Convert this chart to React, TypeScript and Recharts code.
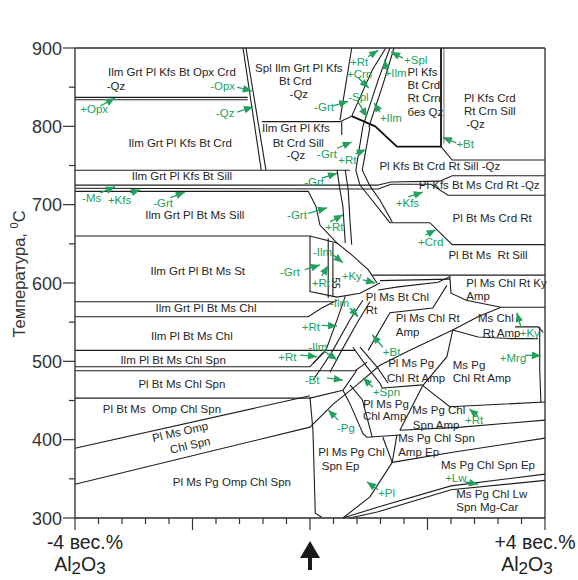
import React from 'react';
import { ComposedChart, Line, Scatter, XAxis, YAxis } from 'recharts';

type Pt = [number, number];

const FONT = '"Liberation Sans", Arial, Helvetica, sans-serif';
const INK = '#262626';
const GREEN = '#22a05e';

// axis ticks
const xTicks = [-4, -3.6, -3.2, -2.8, -2.4, -2, -1.6, -1.2, -0.8, -0.4, 0, 0.4, 0.8, 1.2, 1.6, 2, 2.4, 2.8, 3.2, 3.6, 4];
const yTicks = [300, 350, 400, 450, 500, 550, 600, 650, 700, 750, 800, 850, 900];

// phase-field boundaries: [Al2O3 wt% shift, T °C]
const boundaryLines: Pt[][] = [
  [[-4, 837], [-1.06, 837]],
  [[-4, 834], [-1.06, 834]],
  [[-1.14, 900], [-0.83, 744]],
  [[-1.09, 900], [-0.75, 744]],
  [[0.71, 900], [0.51, 808]],
  [[0.54, 806], [0.54, 789]],
  [[-0.82, 806], [0.51, 806], [0.71, 813]],
  [[2.23, 774], [2.42, 757], [4, 757]],
  [[1.16, 725], [1.38, 729], [2.21, 730], [2.42, 737], [4, 737]],
  [[1.16, 720], [1.38, 726], [2.06, 726], [2.35, 712], [4, 712]],
  [[-4, 725], [1.16, 725]],
  [[-4, 721], [1.16, 720]],
  [[-4, 717], [-0.03, 717], [0.1, 698]],
  [[-4, 744], [0.68, 744]],
  [[0.71, 813], [1.06, 872], [1.29, 900]],
  [[0.9, 800], [1.16, 859], [1.36, 900]],
  [[1.0, 799], [1.24, 853], [1.43, 900]],
  [[0.9, 800], [0.78, 744], [0.85, 725], [0.99, 712], [1.36, 677], [2.04, 677], [2.42, 649], [4, 649]],
  [[1.02, 799], [0.89, 744], [1.02, 724], [1.19, 706], [1.4, 678]],
  [[0.46, 744], [0.51, 719], [0.56, 698], [0.6, 651]],
  [[0.6, 744], [0.65, 719], [0.68, 680], [0.71, 649]],
  [[0.1, 698], [0.17, 674], [0.46, 651]],
  [[-4, 660], [0, 660], [0.46, 651], [0.71, 636], [0.99, 617], [1.14, 600]],
  [[0, 660], [0, 589], [0.46, 582], [0.85, 587], [1.19, 600]],
  [[0.31, 657], [0.31, 581]],
  [[0.39, 651], [0.39, 582]],
  [[1.06, 610], [4, 610]],
  [[1.19, 603], [2.38, 605]],
  [[2.38, 609], [2.4, 587], [2.66, 578], [3.25, 569], [4, 569]],
  [[2.43, 540], [2.86, 557], [3.25, 569]],
  [[2.43, 540], [2.86, 531], [3.42, 529], [3.88, 529]],
  [[3.49, 544], [3.88, 544], [3.97, 537]],
  [[3.91, 544], [3.91, 490], [3.93, 448]],
  [[0.6, 583], [0.46, 553], [0.27, 514], [0.05, 497]],
  [[0.9, 578], [0.68, 553], [0.39, 514], [0.17, 489], [0.05, 476]],
  [[1.02, 576], [0.8, 549], [0.54, 514], [0.34, 486]],
  [[0.99, 514], [1.36, 562], [2.09, 568], [2.33, 597]],
  [[1.16, 591], [1.5, 595], [2.18, 601], [2.38, 608]],
  [[2.43, 540], [2.33, 506], [1.92, 469]],
  [[-4, 343], [0, 416], [0.39, 445], [0.8, 470], [1.19, 495], [1.7, 514], [2.43, 540]],
  [[-4, 389], [0, 456]],
  [[1.92, 469], [2.38, 442], [4, 448]],
  [[1.92, 469], [1.53, 412]],
  [[1.53, 412], [2.57, 416], [4, 425]],
  [[1.4, 371], [2.43, 384], [4, 402]],
  [[0.97, 403], [1.53, 406]],
  [[1.24, 403], [1.4, 371]],
  [[1.48, 406], [1.4, 371]],
  [[1.4, 371], [1.02, 327], [0.56, 300]],
  [[0, 454], [0.05, 412], [0.09, 306], [0.2, 301]],
  [[0.56, 463], [0.68, 446], [0.9, 408], [0.97, 403]],
  [[0.68, 470], [0.89, 451], [1.06, 403]],
  [[0.73, 518], [0.97, 493], [1.19, 472], [1.23, 466]],
  [[0.85, 518], [1.14, 493], [1.33, 472]],
  [[-4, 453], [0, 453], [0.56, 463]],
  [[0.56, 463], [0.8, 489]],
  [[-4, 493], [0, 493], [0.22, 511]],
  [[-4, 488], [0.77, 488], [0.97, 499]],
  [[-4, 576], [0.39, 576]],
  [[-4, 557], [-0.03, 557], [0.2, 568], [0.46, 578]],
  [[-4, 514], [0.77, 514]],
  [[0.56, 300], [1.16, 314], [2.4, 341], [4, 356]],
  [[0.68, 300], [1.16, 308], [2.4, 336], [4, 348]],
  [[1.23, 466], [1.92, 470]],
];

const heavyLines: Pt[][] = [
  [[0.71, 813], [1.11, 800], [1.48, 774], [2.23, 774], [2.23, 900]],
];

const faintLines: Pt[][] = [
  [[2.28, 900], [2.28, 778]],
];

// assemblage names (centered)
const fieldNames = [
  { x: -2.35, y: 869, t: 'Ilm Grt Pl Kfs Bt Opx Crd' },
  { x: -2.21, y: 779, t: 'Ilm Grt Pl Kfs Bt Crd' },
  { x: -2.18, y: 737, t: 'Ilm Grt Pl Kfs Bt Sill' },
  { x: -1.96, y: 687, t: 'Ilm Grt Pl Bt Ms Sill' },
  { x: -1.91, y: 615, t: 'Ilm Grt Pl Bt Ms St' },
  { x: -1.77, y: 568, t: 'Ilm Grt Pl Bt Ms Chl' },
  { x: -2.01, y: 532, t: 'Ilm Pl Bt Ms Chl' },
  { x: -2.33, y: 502, t: 'Ilm Pl Bt Ms Chl Spn' },
  { x: -2.18, y: 471, t: 'Pl Bt Ms Chl Spn' },
  { x: -2.52, y: 439, t: 'Pl Bt Ms  Omp Chl Spn' },
  { x: -1.33, y: 346, t: 'Pl Ms Pg Omp Chl Spn' },
  { x: -0.19, y: 874, t: 'Spl Ilm Grt Pl Kfs' },
  { x: -0.25, y: 858, t: 'Bt Crd' },
  { x: -0.19, y: 841, t: '-Qz' },
  { x: -0.24, y: 798, t: 'Ilm Grt Pl Kfs' },
  { x: -0.2, y: 779, t: 'Bt Crd Sill' },
  { x: -0.24, y: 763, t: '-Qz' },
  { x: 2.21, y: 749, t: 'Pl Kfs Bt Crd Rt Sill -Qz' },
  { x: 2.88, y: 725, t: 'Pl Kfs Bt Ms Crd Rt -Qz' },
  { x: 3.1, y: 683, t: 'Pl Bt Ms Crd Rt' },
  { x: 3.03, y: 636, t: 'Pl Bt Ms  Rt Sill' },
];

// assemblage names (left aligned)
const fieldNamesLeft = [
  { x: -3.46, y: 851, t: '-Qz' },
  { x: 1.66, y: 869, t: 'Pl Kfs' },
  { x: 1.66, y: 853, t: 'Bt Crd' },
  { x: 1.66, y: 836, t: 'Rt Crn' },
  { x: 1.66, y: 818, t: 'без Qz' },
  { x: 2.62, y: 836, t: 'Pl Kfs Crd' },
  { x: 2.62, y: 820, t: 'Rt Crn Sill' },
  { x: 2.66, y: 803, t: '-Qz' },
  { x: 2.66, y: 600, t: 'Pl Ms Chl Rt Ky' },
  { x: 2.66, y: 583, t: 'Amp' },
  { x: 0.95, y: 582, t: 'Pl Ms Bt Chl' },
  { x: 0.95, y: 566, t: 'Rt' },
  { x: 1.46, y: 555, t: 'Pl Ms Chl Rt' },
  { x: 1.46, y: 537, t: 'Amp' },
  { x: 2.86, y: 555, t: 'Ms Chl' },
  { x: 2.94, y: 536, t: 'Rt Amp' },
  { x: 1.33, y: 498, t: 'Pl Ms Pg' },
  { x: 1.31, y: 479, t: 'Chl Rt Amp' },
  { x: 2.43, y: 495, t: 'Ms Pg' },
  { x: 2.43, y: 479, t: 'Chl Rt Amp' },
  { x: 0.9, y: 446, t: 'Pl Ms Pg' },
  { x: 0.9, y: 430, t: 'Chl Amp' },
  { x: 1.74, y: 438, t: 'Ms Pg Chl' },
  { x: 1.75, y: 419, t: 'Spn Amp' },
  { x: 1.5, y: 402, t: 'Ms Pg Chl Spn' },
  { x: 1.5, y: 384, t: 'Amp Ep' },
  { x: 0.14, y: 384, t: 'Pl Ms Pg Chl' },
  { x: 0.2, y: 366, t: 'Spn Ep' },
  { x: 2.23, y: 368, t: 'Ms Pg Chl Spn Ep' },
  { x: 2.49, y: 331, t: 'Ms Pg Chl Lw' },
  { x: 2.49, y: 314, t: 'Spn Mg-Car' },
];

const slantedNames = [
  { x: -2.21, y: 410, t: 'Pl Ms Omp' },
  { x: -2.04, y: 393, t: 'Chl Spn' },
];

const verticalNames = [{ x: 0.43, y: 600, t: '55' }];

// mineral appearance / disappearance marks
const reactionNames = [
  { x: -3.91, y: 822, t: '+Opx' },
  { x: -1.7, y: 851, t: '-Opx' },
  { x: -1.6, y: 817, t: '-Qz' },
  { x: 0.07, y: 825, t: '-Grt' },
  { x: 0.68, y: 882, t: '+Rt' },
  { x: 0.63, y: 867, t: '+Crn' },
  { x: 0.65, y: 837, t: '-Spl' },
  { x: 1.6, y: 885, t: '+Spl' },
  { x: 1.27, y: 868, t: '+Ilm' },
  { x: 1.19, y: 811, t: '+Ilm' },
  { x: 2.49, y: 777, t: '+Bt' },
  { x: 0.12, y: 765, t: '-Grt' },
  { x: 0.48, y: 757, t: '+Rt' },
  { x: -0.1, y: 729, t: '-Grt' },
  { x: -3.88, y: 709, t: '-Ms' },
  { x: -3.44, y: 706, t: '+Kfs' },
  { x: -2.67, y: 702, t: '-Grt' },
  { x: 1.46, y: 702, t: '+Kfs' },
  { x: 1.84, y: 652, t: '+Crd' },
  { x: -0.39, y: 687, t: '-Grt' },
  { x: 0.26, y: 671, t: '+Rt' },
  { x: 0.05, y: 640, t: '-Ilm' },
  { x: -0.51, y: 614, t: '-Grt' },
  { x: 0.03, y: 600, t: '+Rt' },
  { x: 0.54, y: 609, t: '+Ky' },
  { x: 0.34, y: 574, t: '-Ilm' },
  { x: -0.14, y: 544, t: '+Rt' },
  { x: -0.03, y: 518, t: '-Ilm' },
  { x: -0.54, y: 506, t: '+Rt' },
  { x: -0.09, y: 476, t: '-Bt' },
  { x: 1.24, y: 512, t: '+Bt' },
  { x: 1.07, y: 461, t: '+Spn' },
  { x: 0.46, y: 415, t: '-Pg' },
  { x: 1.16, y: 332, t: '+Pl' },
  { x: 2.64, y: 425, t: '+Rt' },
  { x: 2.3, y: 351, t: '+Lw' },
  { x: 3.57, y: 536, t: '+Ky' },
  { x: 3.23, y: 504, t: '+Mrg' },
];

// arrows from label to boundary: [tail, tip]
const reactionArrows: [Pt, Pt][] = [
  [[-3.57, 826], [-3.32, 836]],
  [[-1.24, 850], [-0.99, 845]],
  [[-1.24, 818], [-0.97, 825]],
  [[0.39, 826], [0.65, 832]],
  [[0.99, 889], [1.16, 897]],
  [[0.82, 862], [1.0, 849]],
  [[0.82, 831], [0.97, 812]],
  [[1.58, 887], [1.38, 895]],
  [[1.3, 872], [1.27, 885]],
  [[1.19, 818], [1.09, 830]],
  [[2.49, 779], [2.26, 786]],
  [[0.46, 772], [0.71, 780]],
  [[0.77, 765], [0.95, 770]],
  [[0.2, 734], [0.46, 740]],
  [[-3.57, 715], [-3.32, 723]],
  [[-3.06, 715], [-2.89, 719]],
  [[-2.38, 709], [-2.13, 716]],
  [[1.67, 710], [1.92, 716]],
  [[1.96, 661], [2.14, 668]],
  [[-0.03, 689], [0.29, 696]],
  [[0.34, 678], [0.56, 687]],
  [[0.39, 636], [0.56, 626]],
  [[-0.09, 617], [0.17, 623]],
  [[0.2, 609], [0.31, 622]],
  [[0.9, 604], [1.11, 600]],
  [[0.68, 568], [0.82, 557]],
  [[0.2, 546], [0.46, 545]],
  [[0.22, 514], [0.46, 502]],
  [[-0.17, 508], [0.12, 506]],
  [[0.29, 479], [0.56, 476]],
  [[1.24, 518], [1.06, 534]],
  [[1.07, 467], [0.9, 479]],
  [[0.48, 425], [0.31, 438]],
  [[1.16, 336], [0.97, 346]],
  [[2.86, 430], [2.71, 439]],
  [[2.64, 346], [2.86, 343]],
  [[3.59, 544], [3.52, 562]],
  [[3.66, 508], [3.93, 507]],
];

const rows = (pts: Pt[]) => pts.map(([x, y]) => ({ x, y }));

const isEven = (v: number) => Math.abs(v / 2 - Math.round(v / 2)) < 1e-6;

const ArrowHead = (p: any) => {
  const { index, points, cx, cy } = p;
  if (!points || index !== points.length - 1 || index < 1) return <g key={`ah-${index}`} />;
  const prev = points[index - 1];
  const ang = Math.atan2(cy - prev.y, cx - prev.x);
  const L = 9;
  const W = 3.8;
  const bx = cx - L * Math.cos(ang);
  const by = cy - L * Math.sin(ang);
  const px = -Math.sin(ang) * W;
  const py = Math.cos(ang) * W;
  return (
    <polygon key={`ah-${index}`} points={`${cx},${cy} ${bx + px},${by + py} ${bx - px},${by - py}`} fill={GREEN} stroke="none" />
  );
};

const BottomTick = (props: any) => {
  const { x, y, payload } = props;
  const v = payload.value;
  const long = isEven(v);
  return (
    <g fontFamily={FONT} fill="#222">
      <line x1={x} y1={y} x2={x} y2={y + (long ? 12 : 6)} stroke="#333" strokeWidth={1.2} />
      {v === -4 && (
        <g>
          <text x={x + 10} y={y + 31} textAnchor="middle" fontSize={19.5}>-4 вес.%</text>
          <text x={x + 5} y={y + 53} textAnchor="middle" fontSize={19.5}>
            Al<tspan dy={3} fontSize={17}>2</tspan><tspan dy={-3}>O</tspan><tspan dy={3} fontSize={17}>3</tspan>
          </text>
        </g>
      )}
      {v === 4 && (
        <g>
          <text x={x - 10} y={y + 31} textAnchor="middle" fontSize={19.5}>+4 вес.%</text>
          <text x={x - 18} y={y + 53} textAnchor="middle" fontSize={19.5}>
            Al<tspan dy={3} fontSize={17}>2</tspan><tspan dy={-3}>O</tspan><tspan dy={3} fontSize={17}>3</tspan>
          </text>
        </g>
      )}
      {v === 0 && (
        <path
          d={`M${x},${y + 23} L${x + 10},${y + 40} L${x + 2},${y + 40} L${x + 2},${y + 52} L${x - 2},${y + 52} L${x - 2},${y + 40} L${x - 10},${y + 40} Z`}
          fill="#1a1a1a"
        />
      )}
    </g>
  );
};

const TopTick = (props: any) => {
  const { x, y, payload } = props;
  const v = payload.value;
  const long = isEven(v);
  return (
    <g>
      <line x1={x} y1={y} x2={x} y2={y - (long ? 12 : 6)} stroke="#333" strokeWidth={1.2} />
      {v === 4 && (
        <text x={x - 39} y={y - 16} textAnchor="middle" fontSize={34} fill="#2a2a2a" fontFamily={FONT}>a</text>
      )}
    </g>
  );
};

const LeftTick = (props: any) => {
  const { x, y, payload } = props;
  const v = payload.value;
  const major = v % 100 === 0;
  return (
    <g fontFamily={FONT}>
      <line x1={x} y1={y} x2={x - (major ? 12 : 6)} y2={y} stroke="#333" strokeWidth={1.2} />
      {major && (
        <text x={x - 13} y={y + 6.5} textAnchor="end" fontSize={18} fill="#333">{v}</text>
      )}
      {v === 600 && (
        <text transform={`translate(${x - 50},${y - 9}) rotate(-90)`} textAnchor="middle" fontSize={16.5} fill="#333">
          Температура, <tspan dy={-7} fontSize={11}>0</tspan><tspan dy={7}>C</tspan>
        </text>
      )}
    </g>
  );
};

const RightTick = (props: any) => {
  const { x, y, payload } = props;
  const major = payload.value % 100 === 0;
  return <line x1={x} y1={y} x2={x + (major ? 13 : 7)} y2={y} stroke="#333" strokeWidth={1.2} />;
};

const CenterText = (p: any) => (
  <text x={p.cx} y={p.cy} textAnchor="middle" dominantBaseline="central" fontSize={11.5} fill={INK} fontFamily={FONT} style={{ whiteSpace: 'pre' }}>
    {p.payload.t}
  </text>
);

const LeftText = (p: any) => (
  <text x={p.cx} y={p.cy} textAnchor="start" dominantBaseline="central" fontSize={11.5} fill={INK} fontFamily={FONT} style={{ whiteSpace: 'pre' }}>
    {p.payload.t}
  </text>
);

const SlantText = (p: any) => (
  <text transform={`translate(${p.cx},${p.cy}) rotate(-13)`} textAnchor="middle" dominantBaseline="central" fontSize={11.5} fill={INK} fontFamily={FONT}>
    {p.payload.t}
  </text>
);

const VerticalText = (p: any) => (
  <text transform={`translate(${p.cx},${p.cy}) rotate(90)`} textAnchor="middle" dominantBaseline="central" fontSize={10} fill={INK} fontFamily={FONT}>
    {p.payload.t}
  </text>
);

const GreenText = (p: any) => (
  <text x={p.cx} y={p.cy} textAnchor="start" dominantBaseline="central" fontSize={11.5} fill={GREEN} fontFamily={FONT}>
    {p.payload.t}
  </text>
);

export default function App() {
  const common = { xAxisId: 'b', yAxisId: 'l', isAnimationActive: false, dot: false, activeDot: false, type: 'linear' as const, dataKey: 'y', legendType: 'none' as const };
  return (
    <div style={{ position: 'absolute', left: 0, top: 0, width: 578, height: 580, background: '#fff' }}>
      <ComposedChart width={578} height={580} margin={{ top: 38, right: 13, bottom: 42, left: 15 }}>
        <XAxis xAxisId="b" type="number" dataKey="x" domain={[-4, 4]} ticks={xTicks} interval={0} orientation="bottom" height={20}
          tickSize={0} tickMargin={0} tickLine={false} axisLine={{ stroke: '#2a2a2a', strokeWidth: 1.3 }} tick={<BottomTick />} />
        <XAxis xAxisId="t" type="number" dataKey="x" domain={[-4, 4]} ticks={xTicks} interval={0} orientation="top" height={10}
          tickSize={0} tickMargin={0} tickLine={false} axisLine={{ stroke: '#2a2a2a', strokeWidth: 1.3 }} tick={<TopTick />} />
        <YAxis yAxisId="l" type="number" dataKey="y" domain={[300, 900]} ticks={yTicks} interval={0} orientation="left" width={60}
          tickSize={0} tickMargin={0} tickLine={false} axisLine={{ stroke: '#2a2a2a', strokeWidth: 1.3 }} tick={<LeftTick />} />
        <YAxis yAxisId="r" type="number" dataKey="y" domain={[300, 900]} ticks={yTicks} interval={0} orientation="right" width={20}
          tickSize={0} tickMargin={0} tickLine={false} axisLine={{ stroke: '#2a2a2a', strokeWidth: 1.3 }} tick={<RightTick />} />

        {boundaryLines.map((pts, i) => (
          <Line key={`b${i}`} {...common} data={rows(pts)} stroke="#1c1c1c" strokeWidth={1.1} />
        ))}
        {heavyLines.map((pts, i) => (
          <Line key={`h${i}`} {...common} data={rows(pts)} stroke="#111" strokeWidth={1.8} />
        ))}
        {faintLines.map((pts, i) => (
          <Line key={`f${i}`} {...common} data={rows(pts)} stroke="#777" strokeWidth={1.1} />
        ))}
        {reactionArrows.map((pts, i) => (
          <Line key={`a${i}`} {...common} data={rows(pts)} stroke={GREEN} strokeWidth={1.3} dot={<ArrowHead />} />
        ))}

        <Scatter xAxisId="b" yAxisId="l" data={fieldNames} shape={CenterText} isAnimationActive={false} legendType="none" />
        <Scatter xAxisId="b" yAxisId="l" data={fieldNamesLeft} shape={LeftText} isAnimationActive={false} legendType="none" />
        <Scatter xAxisId="b" yAxisId="l" data={slantedNames} shape={SlantText} isAnimationActive={false} legendType="none" />
        <Scatter xAxisId="b" yAxisId="l" data={verticalNames} shape={VerticalText} isAnimationActive={false} legendType="none" />
        <Scatter xAxisId="b" yAxisId="l" data={reactionNames} shape={GreenText} isAnimationActive={false} legendType="none" />
      </ComposedChart>
    </div>
  );
}
